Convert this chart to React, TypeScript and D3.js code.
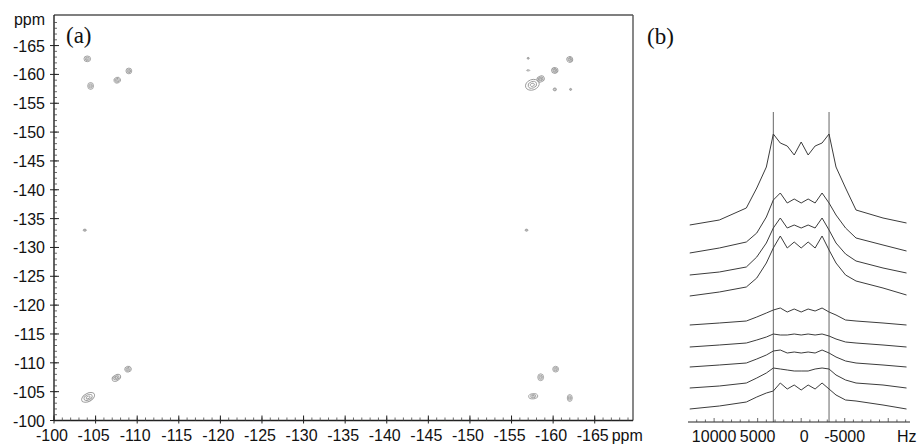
import React from 'react';
import * as d3 from 'd3';

const W = 917,
      H = 444;

// (a) 2D contour map, ppm
const ppmTicks = [-100, -105, -110, -115, -120, -125, -130, -135, -140, -145, -150, -155, -160, -165];
const ppmMinor = d3.range(-100, -170, -1);

// peak centre (F2, F1 ppm), full width (ppm), full height (ppm), tilt (deg)
const peakX = [-104.0, -104.4, -107.6, -109.0, -103.7, -104.1, -107.5, -108.9,
               -157.0, -157.0, -160.2, -162.0, -157.5, -158.5, -160.2, -162.1,
               -156.8, -160.3, -158.5, -157.6, -162.0];
const peakY = [-162.7, -158.0, -159.0, -160.6, -133.0, -104.0, -107.4, -108.9,
               -162.8, -160.7, -160.7, -162.6, -158.2, -159.2, -157.4, -157.4,
               -133.0, -108.9, -107.5, -104.2, -103.9];
const peakW = [0.8, 0.7, 0.8, 0.7, 0.4, 1.7, 1.1, 0.8,
               0.25, 0.4, 0.75, 0.7, 1.7, 0.9, 0.4, 0.25,
               0.35, 0.7, 0.7, 1.1, 0.6];
const peakH = [1.0, 1.2, 1.0, 1.0, 0.35, 1.4, 1.0, 1.0,
               0.3, 0.2, 1.0, 1.0, 1.8, 1.0, 0.5, 0.35,
               0.35, 1.0, 1.2, 0.9, 1.2];
const peakTilt = [0, 0, -20, 0, 0, -28, -30, -15,
                  0, 0, -25, -25, -20, -25, 0, 0,
                  0, 0, 0, -5, 0];

// (b) stacked 1D slices, Hz
const hzGrid = [12800, 9400, 6300, 5100, 4000, 3200, 2400, 1600, 800, 0,
                -800, -1600, -2400, -3200, -4000, -5100, -6300, -9400, -12100];
const hzTicks = [10000, 5000, 0, -5000];
const hzMarkers = [3200, -3200];
const sliceOffset = [197, 169, 147, 126, 97, 75, 55, 34, 13];
const sliceValues = [
  [0, 5, 17, 37, 58, 91, 82, 79, 70, 83, 70, 79, 82, 91, 58, 37, 15, 7, 2],
  [0, 5, 11, 20, 36, 53, 60, 50, 54, 50, 54, 50, 60, 50, 38, 25, 15, 8, 2],
  [0, 3, 8, 18, 32, 47, 57, 47, 50, 47, 50, 47, 57, 45, 32, 21, 14, 7, 2],
  [0, 4, 9, 18, 33, 48, 60, 48, 54, 48, 54, 48, 60, 46, 33, 21, 15, 8, 1],
  [0, 2, 4, 8, 12, 15, 17, 13, 16, 13, 16, 14, 17, 13, 10, 5, 4, 2, 0],
  [0, 2, 4, 7, 10, 13, 12, 12, 13, 12, 13, 12, 13, 11, 8, 5, 4, 2, 0],
  [0, 2, 4, 8, 12, 16, 17, 14, 15, 14, 15, 14, 17, 14, 10, 6, 4, 2, 0],
  [0, 2, 5, 10, 15, 20, 19, 18, 17, 17, 17, 19, 20, 19, 13, 8, 5, 3, 0],
  [0, 3, 7, 12, 16, 18, 26, 20, 24, 19, 24, 20, 26, 20, 14, 9, 8, 4, 0],
];

const font = '"Liberation Sans", Arial, sans-serif';
const serif = '"Liberation Serif", "Times New Roman", serif';

const App = () => {
  const xA = d3.scaleLinear().domain([-100, -169.6]).range([54, 633]);
  const yA = d3.scaleLinear().domain([-100, -170.3]).range([420.5, 15]);
  const [x0, x1] = xA.range();
  const [y0, y1] = yA.range();

  const xB = d3.scaleLinear().domain([13000, -12500]).range([688, 910]);
  const yB = d3.scaleLinear().domain([0, 310]).range([422, 112]);

  const pxPerPpmX = Math.abs(xA(1) - xA(0));
  const pxPerPpmY = Math.abs(yA(1) - yA(0));

  const line = d3.line<number>()
    .x((d, i) => xB(hzGrid[i]))
    .y(d => d);

  return (
    <svg width={W} height={H} style={{ position: 'absolute', left: 0, top: 0, background: '#fff' }}>
      {/* ---------- panel (a) ---------- */}
      <g>
        {peakX.map((px, i) => (
          <g key={'pk' + i} transform={`translate(${xA(px)},${yA(peakY[i])}) rotate(${peakTilt[i]})`}>
            {[1, 0.62, 0.3].map((k, j) => {
              const rx = (peakW[i] * pxPerPpmX / 2) * k;
              const ry = (peakH[i] * pxPerPpmY / 2) * k;
              if (rx < 0.6 || ry < 0.5) return null;
              return (
                <ellipse key={j} rx={rx} ry={ry} fill="none" stroke="#9c9c9c" strokeWidth={0.9} />
              );
            })}
          </g>
        ))}

        {/* frame */}
        <line x1={x0} x2={x1} y1={y1} y2={y1} stroke="#555" strokeWidth={1.4} />
        <line x1={x1} x2={x1} y1={y1} y2={y0} stroke="#555" strokeWidth={1.4} />
        <line x1={x0} x2={x1} y1={y0} y2={y0} stroke="#222" strokeWidth={1.4} />
        <line x1={x0} x2={x0} y1={y1} y2={y0} stroke="#222" strokeWidth={1.4} />

        {/* minor ticks */}
        {ppmMinor.map(v => (
          <g key={'mn' + v}>
            <line x1={xA(v)} x2={xA(v)} y1={y0} y2={y0 - 3} stroke="#444" strokeWidth={0.8} />
            <line x1={x0} x2={x0 + 3} y1={yA(v)} y2={yA(v)} stroke="#444" strokeWidth={0.8} />
          </g>
        ))}

        {/* major ticks + labels */}
        {ppmTicks.map(v => (
          <g key={'mx' + v}>
            <line x1={xA(v)} x2={xA(v)} y1={y0 + 3} y2={y0 - 5} stroke="#222" strokeWidth={1} />
            <text x={xA(v) - 2} y={y0 + 20} textAnchor="middle" fontFamily={font} fontSize={16} fill="#111">{v}</text>
            <line x1={x0 - 4} x2={x0 + 5} y1={yA(v)} y2={yA(v)} stroke="#222" strokeWidth={1} />
            <text x={x0 - 9} y={yA(v) + 6} textAnchor="end" fontFamily={font} fontSize={16} fill="#111">{v}</text>
          </g>
        ))}
        <text x={x0 - 9} y={25} textAnchor="end" fontFamily={font} fontSize={16} fill="#111">ppm</text>
        <text x={xA(-165) + 17} y={y0 + 20} fontFamily={font} fontSize={16} fill="#111">ppm</text>
        <text x={66} y={43} fontFamily={serif} fontSize={23} fill="#111">(a)</text>
      </g>

      {/* ---------- panel (b) ---------- */}
      <g>
        <text x={647} y={44} fontFamily={serif} fontSize={23} fill="#111">(b)</text>

        {hzMarkers.map(h => (
          <line key={'vm' + h} x1={xB(h)} x2={xB(h)} y1={yB(0)} y2={yB(310)} stroke="#666" strokeWidth={1} />
        ))}

        {sliceValues.map((vals, i) => (
          <path key={'sl' + i}
            d={line(vals.map(v => yB(v + sliceOffset[i]))) || ''}
            fill="none" stroke="#3c3c3c" strokeWidth={1} />
        ))}

        <line x1={xB.range()[0]} x2={xB.range()[1]} y1={yB(0)} y2={yB(0)} stroke="#222" strokeWidth={1.2} />
        {d3.range(12000, -12001, -1000).map(h => (
          <line key={'hm' + h} x1={xB(h)} x2={xB(h)} y1={yB(0)} y2={yB(0) - (h % 5000 === 0 ? 4 : 2.5)} stroke="#444" strokeWidth={0.8} />
        ))}
        {hzTicks.map(h => (
          <text key={'hl' + h} x={xB(h) + (h === 0 ? 3 : 0)} y={yB(0) + 20} textAnchor="middle" fontFamily={font} fontSize={16} fill="#111">{h}</text>
        ))}
        <text x={897} y={yB(0) + 20} fontFamily={font} fontSize={16} fill="#111">Hz</text>
      </g>
    </svg>
  );
};

export default App;
